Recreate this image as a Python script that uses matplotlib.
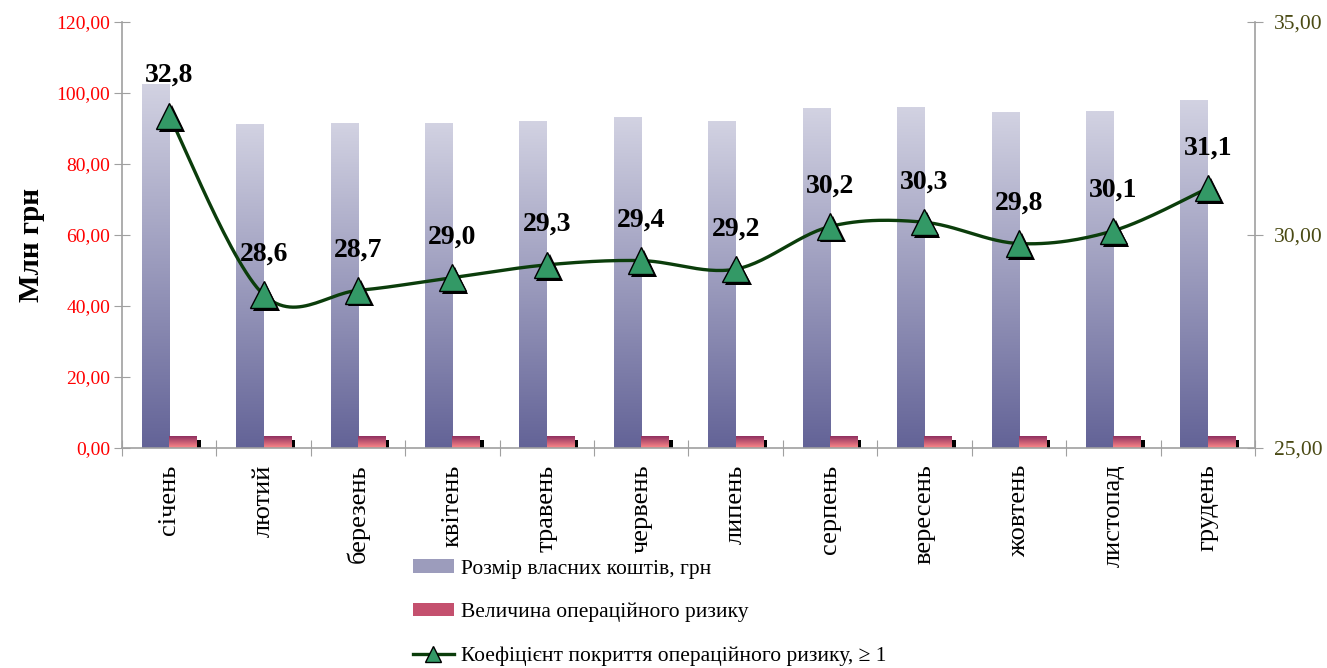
import numpy as np
import matplotlib
matplotlib.use("Agg")
import matplotlib.pyplot as plt
from matplotlib.patches import Patch
from matplotlib.lines import Line2D
from matplotlib import patheffects as pe

plt.rcParams['font.family'] = ['Liberation Serif', 'DejaVu Serif']

months = ['січень', 'лютий', 'березень', 'квітень', 'травень', 'червень',
          'липень', 'серпень', 'вересень', 'жовтень', 'листопад', 'грудень']
own_funds = [102.5, 91.0, 91.5, 91.5, 92.1, 93.0, 92.1, 95.5, 95.8, 94.4, 94.9, 98.0]
op_risk = [3.1, 3.1, 3.1, 3.1, 3.1, 3.1, 3.1, 3.1, 3.1, 3.1, 3.1, 3.1]
coverage = [32.8, 28.6, 28.7, 29.0, 29.3, 29.4, 29.2, 30.2, 30.3, 29.8, 30.1, 31.1]

label_funds = 'Розмір власних коштів, грн'
label_risk = 'Величина операційного ризику'
label_cov = 'Коефіцієнт покриття операційного ризику, \u2265 1'


def catmull_rom(x, y, steps=30):
    # smooth curve through all points, ends padded by duplicating endpoints
    px = np.concatenate([[x[0]], x, [x[-1]]])
    py = np.concatenate([[y[0]], y, [y[-1]]])
    xs, ys = [], []
    t = np.linspace(0, 1, steps)
    for i in range(1, len(px) - 2):
        p0, p1, p2, p3 = (np.array([px[j], py[j]]) for j in range(i - 1, i + 3))
        c1 = p1 + (p2 - p0) / 6
        c2 = p2 - (p3 - p1) / 6
        b = ((1 - t) ** 3)[:, None] * p1 + (3 * (1 - t) ** 2 * t)[:, None] * c1 \
            + (3 * (1 - t) * t ** 2)[:, None] * c2 + (t ** 3)[:, None] * p2
        xs.extend(b[:, 0])
        ys.extend(b[:, 1])
    return np.array(xs), np.array(ys)


def gradient_fill(ax, patches, top_color, bottom_color, zorder):
    cmap = matplotlib.colors.LinearSegmentedColormap.from_list('g', [bottom_color, top_color])
    grad = np.linspace(0, 1, 256)[::-1].reshape(-1, 1)
    for p in patches:
        x0, y0 = p.get_x(), p.get_y()
        w, h = p.get_width(), p.get_height()
        ax.imshow(grad, cmap=cmap, extent=[x0, x0 + w, y0, y0 + h],
                  aspect='auto', zorder=zorder, interpolation='bilinear')
        p.set_facecolor('none')


fig = plt.figure(figsize=(13.27, 6.68), dpi=100)
ax = fig.add_axes([0.0919, 0.3293, 0.8538, 0.6377])
ax2 = ax.twinx()

x = np.arange(len(months))
bw = 0.29

# shadow under the risk bars
ax.bar(x + bw / 2 + 0.042, np.array(op_risk) - 0.85, width=bw, color='black', zorder=1)
bars1 = ax.bar(x - bw / 2, own_funds, width=bw, linewidth=0, zorder=2)
bars2 = ax.bar(x + bw / 2, op_risk, width=bw, linewidth=0, zorder=2)
gradient_fill(ax, bars1, '#d2d2e2', '#636397', 2)
gradient_fill(ax, bars2, '#8f2f5f', '#ff8a8a', 2)

ax.set_xlim(-0.5, len(months) - 0.5)
ax.set_ylim(0, 120)
ax.set_yticks(np.arange(0, 121, 20))
ax.set_yticklabels([f'{v:.2f}'.replace('.', ',') for v in np.arange(0, 121, 20)],
                   color='red', fontsize=14)
ax.set_ylabel('Млн грн', fontsize=21, fontweight='bold')
ax.yaxis.set_label_coords(-0.068, 0.477)

# category boundaries as ticks, labels at the centres
ax.set_xticks(np.arange(-0.5, len(months), 1))
ax.set_xticklabels([])
ax.set_xticks(x, minor=True)
ax.set_xticklabels(months, minor=True, rotation=90, fontsize=19, va='top')
ax.tick_params(axis='x', which='minor', length=0, pad=12)
ax.tick_params(axis='x', which='major', direction='inout', length=11, color='#a0a0a0')
ax.tick_params(axis='y', direction='inout', length=11, color='#a0a0a0', pad=3)

for a in (ax, ax2):
    a.spines['top'].set_visible(False)
    for s in ('left', 'right', 'bottom'):
        a.spines[s].set_color('#a0a0a0')
        a.spines[s].set_linewidth(1.2)
ax.spines['right'].set_visible(False)
ax2.spines['left'].set_visible(False)
ax2.spines['bottom'].set_visible(False)

# coverage ratio on the secondary axis
sx, sy = catmull_rom(x.astype(float), np.array(coverage))
ax2.plot(sx, sy, color='#0b3d0b', linewidth=2.4, zorder=3)
ax2.plot(x, coverage, linestyle='none', marker='^', markersize=19,
         markerfacecolor='#339966', markeredgecolor='black', markeredgewidth=1.0, zorder=4,
         path_effects=[pe.SimplePatchShadow(offset=(2, -2), shadow_rgbFace='black', alpha=1),
                       pe.Normal()])
for xi, v in zip(x, coverage):
    ax2.annotate(f'{v:.1f}'.replace('.', ','), (xi, v), xytext=(0, 20),
                 textcoords='offset points', ha='center', va='bottom',
                 fontsize=20, fontweight='bold', zorder=5)

ax2.set_ylim(25, 35)
ax2.set_yticks([25, 30, 35])
ax2.set_yticklabels(['25,00', '30,00', '35,00'], color='#4a4a14', fontsize=15.5)
ax2.tick_params(axis='y', direction='inout', length=11, color='#a0a0a0', pad=8)

handles = [Patch(facecolor='#9c9cbc', edgecolor='none'),
           Patch(facecolor='#c4506e', edgecolor='none'),
           Line2D([0], [0], color='#0b3d0b', linewidth=2.4, marker='^', markersize=11,
                  markerfacecolor='#339966', markeredgecolor='black')]
fig.legend(handles, [label_funds, label_risk, label_cov], loc='upper left',
           bbox_to_anchor=(0.311, 0.163), frameon=False, fontsize=15.5,
           labelspacing=1.12, handlelength=1.9, handleheight=0.6, handletextpad=0.35,
           borderaxespad=0, borderpad=0)

fig.savefig('out.png', dpi=100)
